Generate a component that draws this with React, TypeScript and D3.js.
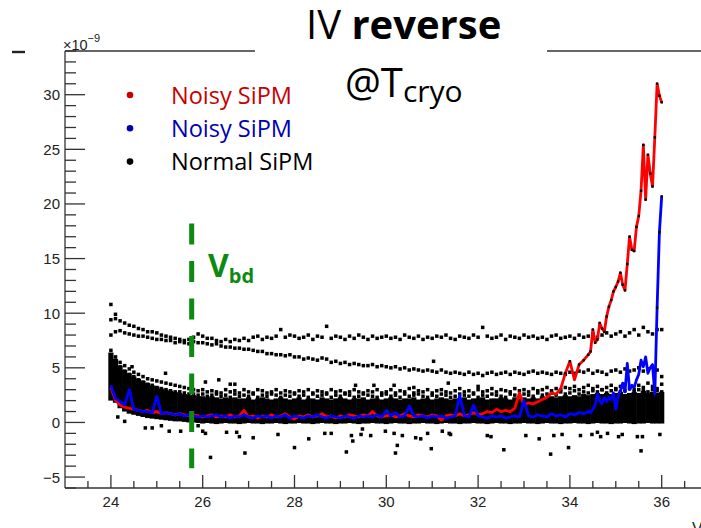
import React from "react";
import * as d3 from "d3";

// sweep grid of the black SiPM scans (V)
const blackV = [
  24.0, 24.1, 24.2, 24.3, 24.4, 24.5, 24.6, 24.7, 24.8, 24.9,
  25.0, 25.1, 25.2, 25.3, 25.4, 25.5, 25.6, 25.7, 25.8, 25.9,
  26.0, 26.1, 26.2, 26.3, 26.4, 26.5, 26.6, 26.7, 26.8, 26.9,
  27.0, 27.1, 27.2, 27.3, 27.4, 27.5, 27.6, 27.7, 27.8, 27.9,
  28.0, 28.1, 28.2, 28.3, 28.4, 28.5, 28.6, 28.7, 28.8, 28.9,
  29.0, 29.1, 29.2, 29.3, 29.4, 29.5, 29.6, 29.7, 29.8, 29.9,
  30.0, 30.1, 30.2, 30.3, 30.4, 30.5, 30.6, 30.7, 30.8, 30.9,
  31.0, 31.1, 31.2, 31.3, 31.4, 31.5, 31.6, 31.7, 31.8, 31.9,
  32.0, 32.1, 32.2, 32.3, 32.4, 32.5, 32.6, 32.7, 32.8, 32.9,
  33.0, 33.1, 33.2, 33.3, 33.4, 33.5, 33.6, 33.7, 33.8, 33.9,
  34.0, 34.1, 34.2, 34.3, 34.4, 34.5, 34.6, 34.7, 34.8, 34.9,
  35.0, 35.1, 35.2, 35.3, 35.4, 35.5, 35.6, 35.7, 35.8, 35.9,
  36.0,
];

// normal SiPM rows (x1e-9 A)
const normalRow1 = [
  9.4, 9.5, 9.3, 9.1, 8.9, 8.8, 8.6, 8.5, 8.3, 8.3,
  8.2, 8.0, 7.9, 7.8, 7.7, 7.6, 7.5, 7.6, 7.8, 8.1,
  7.9, 7.7, 7.7, 7.5, 7.4, 7.6, 7.4, 7.6, 7.5, 7.7,
  7.5, 7.8, 7.9, 7.6, 7.8, 7.7, 7.9, 8.5, 7.8, 8.0,
  7.9, 7.7, 7.8, 8.0, 7.6, 7.9, 7.8, 8.8, 7.7, 7.9,
  7.8, 7.6, 7.9, 7.7, 8.0, 7.8, 7.6, 7.9, 7.7, 7.8,
  7.9, 7.7, 7.8, 7.6, 8.0, 7.8, 7.7, 7.9, 7.6, 7.8,
  7.7, 7.9, 7.8, 8.0, 7.7, 7.6, 7.9, 7.8, 7.7, 8.0,
  7.8, 8.7, 7.9, 7.7, 7.8, 8.0, 7.6, 7.9, 7.8, 7.7,
  8.0, 7.8, 7.9, 7.7, 7.8, 7.6, 7.9, 8.0, 7.7, 7.8,
  7.9, 7.7, 8.0, 7.8, 7.9, 8.1, 7.8, 8.0, 8.2, 7.9,
  8.1, 8.3, 7.9, 8.2, 8.5, 8.0, 8.7, 8.3, 8.1, 8.5,
  8.5,
];
const normalRow2 = [
  8.0, 8.3, 8.4, 8.2, 8.1, 8.0, 7.9, 7.9, 7.8, 7.7,
  7.6, 7.6, 7.5, 7.5, 7.3, 7.4, 7.3, 7.2, 7.4, 7.3,
  7.3, 7.2, 7.1, 7.2, 7.0, 6.9, 6.9, 6.8, 6.8, 6.7,
  6.7, 6.6, 6.5, 6.5, 6.3, 6.3, 6.2, 6.2, 6.1, 6.2,
  6.0, 6.0, 5.8, 5.9, 5.8, 5.7, 5.9, 5.8, 5.5, 5.6,
  5.4, 5.5, 5.3, 5.4, 5.3, 5.2, 5.2, 5.3, 5.1, 5.2,
  5.1, 5.0, 5.1, 4.9, 5.0, 4.8, 4.9, 4.8, 4.7, 4.8,
  4.7, 4.6, 4.8, 4.6, 4.5, 4.6, 4.5, 4.4, 4.6, 4.4,
  4.5, 4.3, 4.5, 4.6, 4.4, 4.5, 4.6, 4.4, 4.6, 4.5,
  4.4, 4.6, 4.7, 4.5, 4.6, 4.5, 4.4, 4.6, 4.5, 4.4,
  4.6, 4.5, 4.7, 4.6, 4.8, 4.5, 4.7, 4.6, 4.4, 4.7,
  4.8, 4.6, 4.9, 4.7, 4.8, 5.0, 4.7, 4.9, 5.1, 4.8,
  4.2,
];
const normalRow3 = [
  6.6, 6.0, 5.5, 5.2, 4.9, 4.6, 4.4, 4.2, 4.0, 3.9,
  3.8, 3.7, 3.6, 3.5, 3.4, 3.3, 3.2, 3.1, 3.0, 2.9,
  3.0, 2.8, 2.9, 2.8, 2.7, 3.0, 2.8, 2.9, 2.7, 3.0,
  2.8, 2.7, 3.0, 2.9, 2.7, 2.8, 3.0, 2.7, 2.9, 2.8,
  2.7, 2.9, 2.8, 3.0, 2.7, 2.9, 2.8, 2.7, 3.0, 2.8,
  2.9, 2.7, 2.8, 3.0, 2.8, 2.7, 2.9, 2.8, 3.0, 2.7,
  2.8, 3.0, 2.7, 2.9, 2.8, 3.1, 2.7, 2.9, 2.8, 3.0,
  2.7, 2.9, 3.0, 2.8, 2.7, 2.9, 3.1, 2.8, 2.9, 2.7,
  3.0, 2.8, 2.9, 3.1, 2.8, 3.0, 2.9, 2.8, 3.1, 2.9,
  3.0, 2.8, 3.1, 2.9, 3.0, 3.2, 2.9, 3.1, 3.0, 3.2,
  3.1, 3.3, 3.0, 3.2, 3.4, 3.1, 3.3, 3.0, 3.2, 3.4,
  3.1, 3.3, 3.5, 3.2, 3.0, 3.4, 3.2, 3.6, 3.3, 3.1,
  3.5,
];
const normalRow4 = [
  6.2, 5.7, 5.1, 4.7, 4.4, 4.2, 3.9, 3.7, 3.5, 3.4,
  3.2, 3.1, 3.0, 2.9, 2.8, 2.8, 2.7, 2.6, 2.6, 2.5,
  2.6, 2.4, 2.5, 2.6, 2.4, 2.5, 2.3, 2.6, 2.4, 2.5,
  2.4, 2.6, 2.3, 2.5, 2.4, 2.6, 2.5, 2.3, 2.5, 2.4,
  2.6, 2.4, 2.5, 2.3, 2.6, 2.4, 2.5, 2.6, 2.3, 2.5,
  2.4, 2.6, 2.5, 2.3, 2.4, 2.6, 2.5, 2.4, 2.3, 2.5,
  2.6, 2.4, 2.5, 2.3, 2.6, 2.4, 2.5, 2.6, 2.4, 2.3,
  2.5, 2.4, 2.6, 2.5, 2.3, 2.4, 2.6, 2.5, 2.4, 2.6,
  2.3, 2.5, 2.4, 2.6, 2.5, 2.4, 2.3, 2.6, 2.5, 2.4,
  2.6, 2.5, 2.4, 2.7, 2.5, 2.6, 2.7, 2.5, 2.8, 2.6,
  2.7, 2.9, 2.6, 2.8, 2.7, 2.9, 2.8, 3.0, 2.7, 2.9,
  3.0, 2.8, 2.9, 3.1, 2.8, 3.0, 2.9, 2.8, 3.0, 2.9,
  2.8,
];
// dense band of the remaining normal SiPMs
const bandHigh = [
  6.4, 5.8, 5.2, 4.8, 4.5, 4.2, 4.0, 3.8, 3.6, 3.4,
  3.3, 3.1, 3.0, 2.9, 2.8, 2.7, 2.6, 2.5, 2.5, 2.4,
  2.4, 2.3, 2.4, 2.3, 2.2, 2.3, 2.2, 2.3, 2.2, 2.2,
  2.3, 2.1, 2.2, 2.3, 2.2, 2.1, 2.2, 2.3, 2.2, 2.1,
  2.2, 2.3, 2.1, 2.2, 2.2, 2.1, 2.3, 2.2, 2.1, 2.2,
  2.3, 2.2, 2.1, 2.2, 2.2, 2.3, 2.1, 2.2, 2.2, 2.1,
  2.2, 2.3, 2.2, 2.1, 2.2, 2.2, 2.3, 2.1, 2.2, 2.2,
  2.1, 2.2, 2.3, 2.2, 2.1, 2.2, 2.2, 2.3, 2.1, 2.2,
  2.2, 2.3, 2.1, 2.2, 2.2, 2.3, 2.2, 2.1, 2.3, 2.2,
  2.3, 2.2, 2.3, 2.2, 2.4, 2.3, 2.4, 2.3, 2.4, 2.5,
  2.4, 2.5, 2.4, 2.6, 2.5, 2.6, 2.7, 2.6, 2.7, 2.6,
  2.7, 2.8, 2.6, 2.7, 2.8, 2.7, 2.9, 2.7, 2.8, 2.7,
  2.8,
];
const bandLow = [
  2.0, 1.8, 1.3, 1.0, 0.8, 0.7, 0.6, 0.5, 0.4, 0.35,
  0.3, 0.25, 0.2, 0.15, 0.1, 0.1, 0.05, 0.0, 0.0, -0.05,
  -0.1, -0.05, -0.1, -0.15, -0.1, -0.05, -0.1, -0.1, -0.15, -0.1,
  -0.05, -0.1, -0.1, -0.15, -0.1, -0.1, -0.05, -0.1, -0.15, -0.1,
  -0.1, -0.05, -0.1, -0.1, -0.15, -0.1, -0.05, -0.1, -0.1, -0.15,
  -0.1, -0.1, -0.05, -0.1, -0.15, -0.1, -0.1, -0.05, -0.1, -0.1,
  -0.15, -0.1, -0.05, -0.1, -0.1, -0.15, -0.1, -0.1, -0.05, -0.1,
  -0.1, -0.15, -0.1, -0.05, -0.1, -0.1, -0.15, -0.1, -0.1, -0.05,
  -0.1, -0.1, -0.15, -0.1, -0.05, -0.1, -0.1, -0.15, -0.1, -0.1,
  -0.05, -0.1, -0.1, -0.15, -0.1, -0.05, -0.1, -0.1, -0.15, -0.1,
  -0.1, -0.05, -0.1, -0.1, -0.15, -0.1, -0.05, -0.1, -0.1, -0.15,
  -0.1, -0.1, -0.05, -0.1, -0.15, -0.1, -0.1, -0.05, -0.1, -0.1,
  -0.1,
];
// stray normal SiPM points
const strayV = [
  24.0, 24.1, 24.46, 25.19, 26.06, 26.35, 26.6, 26.7, 29.33, 29.73, 30.17, 30.6, 31.03, 31.35, 32.0,
  24.15, 24.3, 24.75, 24.9, 25.1, 25.27, 25.52, 25.9, 26.0, 26.06, 26.17, 26.52, 26.74, 26.8, 26.92,
  27.1, 27.64, 28.0, 28.31, 28.66, 28.8, 29.13, 29.24, 29.27, 29.45, 29.48, 29.66, 29.98, 30.17, 30.2,
  30.24, 30.35, 30.64, 30.75, 30.9, 30.98, 31.22, 31.37, 31.4, 32.2, 32.28, 32.56, 33.04, 33.33, 33.58,
  33.65, 33.83, 33.97, 34.23, 34.48, 34.6, 34.67, 34.82, 35.06, 35.14, 35.47, 35.58, 35.55, 35.96,
];
const strayI = [
  10.8, 9.9, 5.1, 4.5, 3.7, 3.9, 3.5, 3.5, 3.4, 3.4, 3.4, 3.2, 5.6, 3.6, 3.3,
  0.5, 0.1, -0.5, -0.5, -0.3, -0.8, -0.8, -0.3, -0.8, -1.0, -3.2, -0.9, -0.9, -1.3, -2.8,
  -1.4, -1.1, -2.3, -1.5, -1.0, -1.0, -2.7, -1.2, -1.7, -1.1, -0.6, -1.2, -0.8, -1.0, -2.8,
  -2.1, -1.2, -1.4, -1.5, -1.0, -2.4, -0.8, -1.0, -1.1, -1.2, -1.3, -2.5, -1.2, -1.5, -2.9,
  -1.2, -1.1, -2.3, -1.2, -1.1, -0.9, -1.3, -1.0, -1.3, -1.1, -1.3, -1.3, -2.6, -1.1,
];

// sweep grid of the two noisy SiPMs (V)
const noisyV = [
  24.0, 24.1, 24.2, 24.3, 24.4, 24.5, 24.6, 24.7, 24.8, 24.9,
  25.0, 25.1, 25.2, 25.3, 25.4, 25.5, 25.6, 25.7, 25.8, 25.9,
  26.0, 26.1, 26.2, 26.3, 26.4, 26.5, 26.6, 26.7, 26.8, 26.9,
  27.0, 27.1, 27.2, 27.3, 27.4, 27.5, 27.6, 27.7, 27.8, 27.9,
  28.0, 28.1, 28.2, 28.3, 28.4, 28.5, 28.6, 28.7, 28.8, 28.9,
  29.0, 29.1, 29.2, 29.3, 29.4, 29.5, 29.6, 29.7, 29.8, 29.9,
  30.0, 30.1, 30.2, 30.3, 30.4, 30.5, 30.6, 30.7, 30.8, 30.9,
  31.0, 31.1, 31.2, 31.3, 31.4, 31.5, 31.6, 31.7, 31.8, 31.9,
  32.0, 32.1, 32.2, 32.3, 32.4, 32.5, 32.6, 32.7, 32.8, 32.9,
  33.0, 33.1, 33.2, 33.3, 33.4, 33.5, 33.6, 33.7, 33.8, 33.9,
  34.0, 34.1, 34.2, 34.3, 34.4,
  34.45, 34.5, 34.55, 34.6, 34.65, 34.7, 34.75, 34.8, 34.85, 34.9,
  34.95, 35.0, 35.05, 35.1, 35.15, 35.2, 35.25, 35.3, 35.35, 35.4,
  35.45, 35.5, 35.55, 35.6, 35.65, 35.7, 35.75, 35.8, 35.85, 35.9,
  35.95, 36.0,
];
const noisyRed = [
  3.2, 2.0, 1.6, 1.4, 1.3, 1.2, 1.1, 1.0, 1.1, 0.9,
  1.0, 0.8, 0.9, 0.8, 0.7, 0.8, 0.7, 0.6, 0.7, 0.6,
  0.5, 0.6, 0.7, 0.5, 0.6, 0.5, 0.7, 0.5, 0.6, 1.1,
  0.5, 0.6, 0.4, 0.6, 0.5, 0.7, 0.5, 0.6, 0.8, 0.5,
  0.3, 0.6, 0.5, 0.7, 0.5, 0.6, 0.8, 0.5, 0.6, 0.4,
  0.6, 0.5, 0.7, 0.6, 0.5, 0.7, 0.6, 1.0, 0.6, 0.5,
  0.6, 0.7, 0.5, 0.6, 0.8, 0.6, 0.5, 0.7, 0.6, 0.5,
  0.7, 0.6, 0.2, 0.6, 0.7, 0.6, 0.8, 0.6, 0.7, 0.9,
  0.7, 0.8, 1.0, 0.9, 1.2, 1.0, 1.1, 1.0, 1.3, 2.7,
  1.6, 1.8, 1.7, 1.9, 2.1, 2.3, 2.7, 2.6, 3.1, 4.5,
  5.6, 3.9, 5.3, 5.7, 6.2,
  6.5, 8.5, 7.3, 7.6, 9.1, 8.6, 8.3, 9.7, 10.6, 11.2,
  12.0, 12.4, 12.9, 13.7, 12.6, 12.1, 14.5, 17.0, 15.8, 15.7,
  17.9, 18.9, 21.2, 25.4, 20.4, 24.5, 22.8, 21.6, 26.1, 31.0,
  29.9, 29.3,
];
const noisyBlue = [
  3.4, 2.2, 1.9, 1.6, 3.0, 1.2, 1.1, 1.0, 1.0, 0.9,
  2.4, 0.8, 0.9, 0.8, 0.7, 0.8, 0.6, 0.7, 0.6, 0.5,
  0.6, 0.5, 0.6, 0.7, 0.5, 0.6, 0.4, 0.6, 0.5, 0.7,
  0.5, 0.4, 0.6, 0.5, 0.6, 0.4, 0.6, 0.5, 0.7, 0.4,
  0.6, 0.5, 0.4, 0.6, 0.5, 0.7, 0.5, 0.4, 0.6, 0.5,
  0.4, 0.6, 0.5, 0.4, 0.6, 0.5, 0.6, 0.5, 0.7, 0.5,
  1.1, 0.6, 0.9, 0.5, 0.6, 1.5, 0.6, 0.5, 0.6, 0.4,
  0.6, 0.5, 0.6, 0.4, 0.5, 0.6, 2.5, 0.6, 0.5, 1.6,
  0.6, 0.5, 0.4, 0.6, 0.5, 0.6, 0.4, 0.5, 0.6, 0.5,
  2.0, 0.6, 0.5, 0.7, 0.6, 0.5, 0.8, 0.6, 0.7, 0.5,
  0.8, 0.7, 0.9, 0.8, 1.0,
  0.9, 1.2, 1.6, 2.6, 2.0, 1.7, 2.3, 1.9, 2.3, 2.1,
  2.7, 1.2, 2.4, 2.9, 3.6, 2.8, 5.4, 3.0, 3.4, 3.2,
  3.9, 4.4, 5.7, 5.1, 6.0, 4.5, 5.0, 5.3, 2.6, 10.5,
  17.4, 20.7,
];

const xTickLabels = [24, 26, 28, 30, 32, 34, 36];
const yTickLabels = [-5, 0, 5, 10, 15, 20, 25, 30];
const legendNames = ["Noisy SiPM", "Noisy SiPM", "Normal SiPM"];
const breakdownV = 25.76;
const breakdownSpan = [18.2, -4.2];

const W = 701, H = 528;
const axisFont = "'Liberation Sans', Arial, sans-serif";
const slideFont = "'Open Sans', sans-serif";
const axisColor = "#333";

export default function App() {
  const x = d3.scaleLinear().domain([23, 37]).range([65, 707.6]);
  const y = d3.scaleLinear().domain([-6, 34]).range([488, 51]);
  const yMinor = y.ticks(40);
  const xMinor = x.ticks(28).filter((v) => x(v) > 66);

  const traceLine = d3.line<number>().x((_, i) => x(noisyV[i])).y((d) => y(d));
  const rows = [normalRow1, normalRow2, normalRow3, normalRow4];
  const colW = x(24.1) - x(24.0) + 0.6;
  const sq = 3.5;

  const legendColors = ["#c80000", "#0000b4", "#000"];

  return (
    <svg width={W} height={H} style={{ position: "absolute", left: 0, top: 0, background: "#fff" }}>
      <rect width={W} height={H} fill="#fff" />

      {/* dense band */}
      <g fill="#000">
        {blackV.map((v, i) => (
          <rect key={"b" + i} x={x(v) - colW / 2} y={y(bandHigh[i])} width={colW}
            height={y(bandLow[i]) - y(bandHigh[i])} />
        ))}
      </g>
      {/* rows of normal SiPMs */}
      <g fill="#000">
        {rows.map((row, r) =>
          row.map((val, i) => (
            <rect key={`r${r}-${i}`} x={x(blackV[i]) - sq / 2} y={y(val) - sq / 2} width={sq} height={sq} />
          ))
        )}
        {strayV.map((v, i) => (
          <rect key={"s" + i} x={x(v) - sq / 2} y={y(strayI[i]) - sq / 2} width={sq} height={sq} />
        ))}
      </g>

      {/* noisy SiPMs */}
      <path d={traceLine(noisyRed) || ""} fill="none" stroke="#ff0000" strokeWidth={2.8} strokeLinejoin="round" />
      <path d={traceLine(noisyBlue) || ""} fill="none" stroke="#0000ff" strokeWidth={2.8} strokeLinejoin="round" />
      <g fill="#000">
        {noisyRed.map((val, i) => val > 4 ? (
          <rect key={"rm" + i} x={x(noisyV[i]) - 1.2} y={y(val) - 1.2} width={2.4} height={2.4} />
        ) : null)}
        {noisyBlue.map((val, i) => val > 8 ? (
          <rect key={"bm" + i} x={x(noisyV[i]) - 1.2} y={y(val) - 1.2} width={2.4} height={2.4} />
        ) : null)}
      </g>

      {/* breakdown voltage marker */}
      <line x1={x(breakdownV)} x2={x(breakdownV)} y1={y(breakdownSpan[0])} y2={y(breakdownSpan[1])}
        stroke="#0e8a12" strokeWidth={5} strokeDasharray="21 16.5" />
      <text x={208} y={277} fontFamily={slideFont} fontWeight={700} fontSize={32} fill="#0e8a12">
        V<tspan fontSize={20} dy={6}>bd</tspan>
      </text>

      {/* frame and axes */}
      <g stroke={axisColor} strokeWidth={1.3} fill="none">
        <line x1={65} x2={65} y1={y(34)} y2={y(-6)} />
        <line x1={65} x2={W} y1={y(-6)} y2={y(-6)} />
        <line x1={65} x2={255} y1={y(34)} y2={y(34)} />
        <line x1={547} x2={W} y1={y(34)} y2={y(34)} />
        {yMinor.map((v) => (
          <line key={"ym" + v} x1={65} x2={65 + (yTickLabels.includes(v) ? 20 : 11)} y1={y(v)} y2={y(v)} />
        ))}
        {xMinor.map((v) => (
          <line key={"xm" + v} x1={x(v)} x2={x(v)} y1={y(-6)} y2={y(-6) - (xTickLabels.includes(v) ? 13 : 7)} />
        ))}
      </g>
      <line x1={12} x2={25} y1={52} y2={52} stroke="#222" strokeWidth={2.4} />
      <g fontFamily={axisFont} fontSize={15} fill="#222">
        {yTickLabels.map((v) => (
          <text key={"yl" + v} x={60} y={y(v) + 5.5} textAnchor="end">{v < 0 ? "\u2212" + Math.abs(v) : v}</text>
        ))}
        {xTickLabels.map((v) => (
          <text key={"xl" + v} x={x(v)} y={507} textAnchor="middle">{v}</text>
        ))}
        <text x={692} y={534} fontSize={16}>V</text>
        <text x={63} y={50} fontSize={14.5}>
          ×10<tspan fontSize={11} dy={-8}>{"\u22129"}</tspan>
        </text>
      </g>

      {/* slide annotations */}
      <text x={306} y={38.5} fontFamily={slideFont} fontSize={40} fill="#000">
        IV <tspan fontWeight={700}>reverse</tspan>
      </text>
      <text x={345} y={96.5} fontFamily={slideFont} fontSize={40} fill="#000">
        @T<tspan fontSize={30} dy={5.5}>cryo</tspan>
      </text>
      {legendNames.map((name, i) => (
        <g key={"lg" + i}>
          <circle cx={130} cy={95 + i * 33.3} r={3.3} fill={legendColors[i]} />
          <text x={171} y={103.5 + i * 33.3} fontFamily={slideFont} fontSize={23.5} fill={legendColors[i]}>{name}</text>
        </g>
      ))}
    </svg>
  );
}
